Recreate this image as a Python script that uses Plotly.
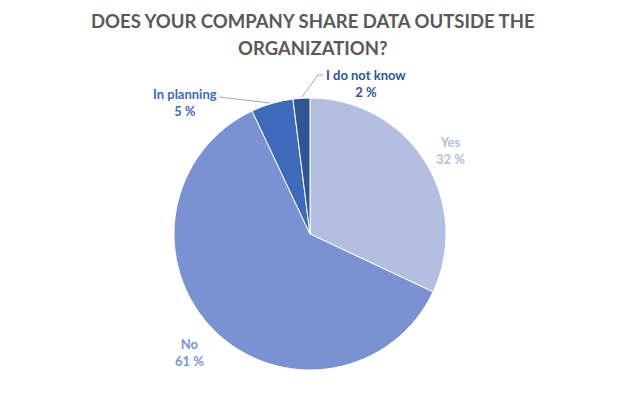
import plotly.graph_objects as go

categories = ["Yes", "No", "In planning", "I do not know"]
values = [32, 61, 5, 2]
colors = ["#B4BEE0", "#7A92D2", "#3F69BA", "#2F5597"]
title_lines = ["DOES YOUR COMPANY SHARE DATA OUTSIDE THE", "ORGANIZATION?"]

W, H = 629, 399
cx, cy, r = 310, 234, 136
FONT = "Lato, 'Open Sans', sans-serif"

fig = go.Figure(go.Pie(
    labels=categories,
    values=values,
    sort=False,
    direction="clockwise",
    rotation=0,
    marker=dict(colors=colors, line=dict(color="#FFFFFF", width=1)),
    textinfo="none",
    hoverinfo="label+percent",
    domain=dict(x=[(cx - r) / W, (cx + r) / W], y=[(H - cy - r) / H, (H - cy + r) / H]),
    showlegend=False,
))

def px(x):
    return x / W

def py(y):
    return 1 - y / H

label_pos = {
    "Yes": (450, 150),
    "No": (189, 352),
    "In planning": (185, 102),
    "I do not know": (366, 83),
}
annotations = []
for cat, val, col in zip(categories, values, colors):
    x, y = label_pos[cat]
    annotations.append(dict(
        x=px(x), y=py(y), xref="paper", yref="paper",
        xanchor="center", yanchor="middle",
        text=f"<b>{cat}<br>{val} %</b>", showarrow=False, align="center",
        font=dict(family=FONT, size=13, color=col),
    ))

for line, ty in zip(title_lines, [21, 48]):
    annotations.append(dict(
        x=px(313), y=py(ty), xref="paper", yref="paper",
        text=f"<b>{line}</b>", showarrow=False, xanchor="center", yanchor="middle",
        font=dict(family=FONT, size=18.5, color="#595959"),
    ))

def pt(x, y):
    return f"{px(x)},{py(y)}"

shapes = [
    dict(type="line", xref="paper", yref="paper", x0=px(219), y0=py(97), x1=px(270), y1=py(103),
         line=dict(color="#A6A6A6", width=1)),
    dict(type="path", xref="paper", yref="paper",
         path=f"M {pt(323, 75)} L {pt(318, 75)} L {pt(302, 97)}",
         line=dict(color="#A6A6A6", width=1)),
]

fig.update_layout(
    width=W, height=H,
    margin=dict(l=0, r=0, t=0, b=0),
    paper_bgcolor="white",
    plot_bgcolor="white",
    annotations=annotations,
    shapes=shapes,
)

fig.write_html("out.html", config={"displayModeBar": False},
               post_script="document.body.style.margin='0';")
